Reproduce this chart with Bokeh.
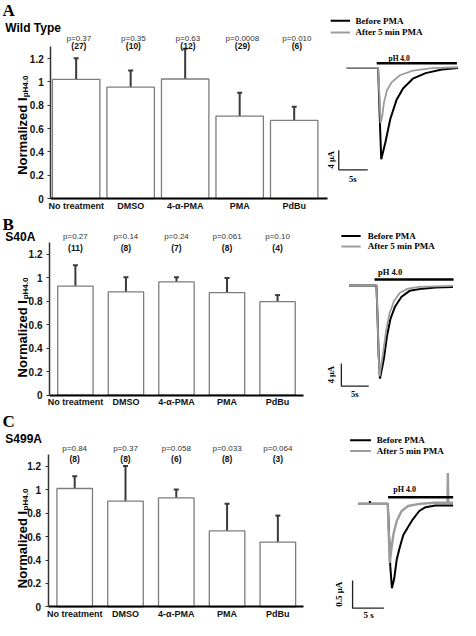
import math
from bokeh.plotting import figure
from bokeh.models import (Range1d, ColumnDataSource, Whisker, TeeHead, FixedTicker, LinearAxis)
from bokeh.layouts import column
from bokeh.core.properties import value
from bokeh.embed import file_html
from bokeh.resources import INLINE

# ---------------- data ----------------
categories = ["No treatment", "DMSO", "4-α-PMA", "PMA", "PdBu"]
y_ticks = [0, 0.2, 0.4, 0.6, 0.8, 1, 1.2]
y_tick_labels = ["0", "0.2", "0.4", "0.6", "0.8", "1", "1.2"]

wt_mean = [1.022, 0.955, 1.025, 0.707, 0.670]
wt_err = [0.181, 0.142, 0.260, 0.201, 0.117]
wt_p = ["p=0.37", "p=0.35", "p=0.63", "p=0.0008", "p=0.010"]
wt_n = ["(27)", "(10)", "(12)", "(29)", "(6)"]

s40_mean = [0.930, 0.880, 0.965, 0.875, 0.797]
s40_err = [0.177, 0.125, 0.041, 0.123, 0.056]
s40_p = ["p=0.27", "p=0.14", "p=0.24", "p=0.061", "p=0.10"]
s40_n = ["(11)", "(8)", "(7)", "(8)", "(4)"]

s499_mean = [1.010, 0.903, 0.930, 0.648, 0.553]
s499_err = [0.105, 0.298, 0.072, 0.232, 0.226]
s499_p = ["p=0.84", "p=0.37", "p=0.058", "p=0.033", "p=0.064"]
s499_n = ["(8)", "(8)", "(6)", "(8)", "(3)"]

legend_labels = ["Before PMA", "After 5 min PMA"]

# current traces (time in s, current in µA)
wt_before_t = [0, 5.4, 5.53, 5.78, 5.95, 6.67, 7.5, 8.6, 9.7, 11.4, 13.6, 16.4, 19.2]
wt_before_i = [0, 0, -4.2, -13.2, -18.7, -15.2, -10.5, -6.5, -4.2, -2.2, -1.06, -0.34, 0]
wt_after_t = [0, 5.4, 5.62, 5.83, 6.12, 6.4, 6.95, 7.78, 9.17, 11.4, 14.7, 19.2]
wt_after_i = [0, 0, -5.2, -11.3, -9.9, -7.2, -4.5, -2.9, -1.5, -0.54, -0.06, 0.14]

s40_before_t = [0, 5.0, 5.18, 5.41, 5.65, 6.36, 6.94, 7.53, 8.41, 9.59, 11.06, 13.43, 15.78, 19.0]
s40_before_i = [0, 0, -4.9, -12.3, -16.4, -12.9, -8.85, -6.0, -3.7, -2.0, -0.96, -0.57, -0.39, -0.27]
s40_after_t = [0, 5.0, 5.18, 5.41, 5.58, 6.24, 6.82, 7.42, 8.23, 9.29, 10.78, 12.83, 15.78, 19.0]
s40_after_i = [0, 0, -4.9, -12.3, -16.0, -11.7, -7.7, -4.85, -2.7, -1.3, -0.57, -0.27, -0.17, -0.1]

s499_before_t = [0, 1.85, 1.9, 1.95, 4.75, 4.95, 5.15, 5.41, 5.77, 6.18, 6.69, 7.22, 7.99, 8.76,
                 9.78, 10.8, 12.37, 15.2]
s499_before_i = [0, 0, 0.05, 0, 0, -0.54, -1.13, -1.53, -1.36, -1.01, -0.78, -0.57, -0.42, -0.28,
                 -0.13, -0.06, -0.03, -0.03]
s499_after_t = [0, 4.75, 5.06, 5.30, 5.67, 6.18, 6.96, 7.99, 9.78, 12.37, 14.3, 14.36, 14.42, 15.2]
s499_after_i = [0, 0, -1.07, -0.84, -0.54, -0.31, -0.13, -0.04, 0, 0.02, 0.02, 0.56, 0.02, 0.02]

wt_ph_window = [5.17, 19.0]
s40_ph_window = [4.65, 19.1]
s499_ph_window = [4.79, 15.2]

wt_scale = (5, 4)        # s, µA
s40_scale = (5, 4)
s499_scale = (5, 0.5)
wt_scale_text = ("5s", "4 μA")
s40_scale_text = ("5s", "4 μA")
s499_scale_text = ("5 s", "0.5 μA")

# ---------------- style ----------------
SANS = "Liberation Sans"
SERIF = "Liberation Serif"
GRAY = "#9c9c9c"
W = 460


def txt(p, x, y, text, font=SANS, size="9px", style="bold", align="left", baseline="middle",
        angle=0.0, color="#111111", **kw):
    p.text(x=[x], y=[y], text=[text], text_font=value(font), text_font_size=size,
           text_font_style=style, text_align=align, text_baseline=baseline, angle=angle,
           text_color=color, **kw)


def panel(cfg):
    p = figure(width=W, height=cfg["h"], x_range=Range1d(*cfg["xr"]), y_range=Range1d(*cfg["yr"]),
               x_axis_location=None, y_axis_location=None,
               min_border_left=0, min_border_right=0, min_border_top=0, min_border_bottom=0,
               output_backend="svg", toolbar_location=None)
    p.extra_x_ranges = {"tx": Range1d(*cfg["txr"])}
    p.extra_y_ranges = {"ty": Range1d(*cfg["tyr"])}
    p.outline_line_color = None
    p.xgrid.grid_line_color = None
    p.ygrid.grid_line_color = None

    idx = list(range(len(categories)))
    means, errs = cfg["mean"], cfg["err"]
    src = ColumnDataSource(dict(x=idx, mean=means, upper=[m + e for m, e in zip(means, errs)],
                                px=[i + cfg["p_dx"] for i in idx], p=cfg["p"], n=cfg["n"]))

    # axes (library axes, pinned at the data origin)
    ya = LinearAxis(fixed_location=cfg["yaxis_x"], bounds=(0, 1.3),
                    ticker=FixedTicker(ticks=y_ticks))
    ya.major_label_overrides = {t: l for t, l in zip(y_ticks, y_tick_labels)}
    ya.axis_line_color = "#333333"
    ya.axis_line_width = 1.5
    ya.major_tick_line_color = "#333333"
    ya.major_tick_line_width = 1.2
    ya.major_tick_out = 3
    ya.major_tick_in = 0
    ya.minor_tick_line_color = None
    ya.major_label_standoff = 4
    ya.major_label_text_font = SANS
    ya.major_label_text_font_style = "bold"
    ya.major_label_text_font_size = "10px"
    ya.major_label_text_color = "#111111"
    p.add_layout(ya, "left")

    xa = LinearAxis(fixed_location=0, bounds=(cfg["yaxis_x"], cfg["xaxis_end"]),
                    ticker=FixedTicker(ticks=idx))
    xa.major_label_overrides = {i: c for i, c in zip(idx, categories)}
    xa.axis_line_color = "black"
    xa.axis_line_width = 2
    xa.major_tick_line_color = None
    xa.minor_tick_line_color = None
    xa.major_tick_out = 0
    xa.major_tick_in = 0
    xa.major_label_standoff = 2
    xa.major_label_text_font = SANS
    xa.major_label_text_font_style = "bold"
    xa.major_label_text_font_size = "9px"
    xa.major_label_text_color = "#111111"
    p.add_layout(xa, "below")

    # bars + error bars
    p.vbar(x="x", top="mean", bottom=0, width=cfg["bar_w"], fill_color="white",
           line_color="#7d7d7d", line_width=1.3, source=src)
    p.add_layout(Whisker(base="x", lower="mean", upper="upper", source=src,
                         line_color="#3a3a3a", line_width=2,
                         upper_head=TeeHead(size=5, line_color="#3a3a3a", line_width=2),
                         lower_head=None))
    p.text(x="px", y=cfg["p_y"], text="p", source=src, text_font=value(SANS),
           text_font_size="8px", text_align="center", text_baseline="middle",
           text_color="#333333")
    p.text(x="px", y=cfg["n_y"], text="n", source=src, text_font=value(SANS),
           text_font_size="8.5px", text_font_style="bold", text_align="center",
           text_baseline="middle", text_color="#111111")

    # panel letter, subtitle, y label
    lx, ly = cfg["letter_pos"]
    txt(p, lx, ly, cfg["letter"], font=SERIF, size="17px", baseline="top", color="black")
    sx, sy = cfg["sub_pos"]
    txt(p, sx, sy, cfg["subtitle"], size="12px", baseline="top", color="black")
    yx, yy = cfg["ylab_pos"]
    txt(p, yx, yy, "Normalized I", size="13px", baseline="alphabetic", angle=math.pi / 2,
        color="black")
    bx, by = cfg["ysub_pos"]
    txt(p, bx, by, "pH4.0", size="8px", baseline="alphabetic", angle=math.pi / 2, color="black")

    # ---- current traces (own time / current scales) ----
    T = dict(x_range_name="tx", y_range_name="ty")
    bt, bi, gt, gi = cfg["trace"]
    p.line(bt, bi, line_color="black", line_width=2, **T)
    p.line(gt, gi, line_color=GRAY, line_width=cfg.get("gray_w", 1.8), **T)

    ph = cfg["ph"]
    p.line(ph, [cfg["ph_y"]] * 2, line_color="black", line_width=2.5, **T)
    txt(p, cfg["ph_text"][0], cfg["ph_text"][1], "pH 4.0", font=SERIF, size=cfg["ph_size"],
        color="black", **T)

    (cx, cy), (st, si) = cfg["corner"], cfg["scale"]
    p.line([cx, cx, cx + st], [cy + si, cy, cy], line_color="#222222", line_width=1.3, **T)
    vx, vy = cfg["vlab"]
    txt(p, vx, vy, cfg["scale_text"][1], font=SERIF, size=cfg["scale_size"], align="center",
        angle=math.pi / 2, color="black", **T)
    hx, hy = cfg["hlab"]
    txt(p, hx, hy, cfg["scale_text"][0], font=SERIF, size=cfg["scale_size"], align="center",
        color="black", **T)

    # legend (lines + texts in the trace coordinates)
    (l0, l1, ltx), (ly0, ly1) = cfg["leg_x"], cfg["leg_y"]
    p.line([l0, l1], [ly0, ly0], line_color="black", line_width=2, **T)
    p.line([l0, l1], [ly1, ly1], line_color=GRAY, line_width=2, **T)
    txt(p, ltx, ly0, legend_labels[0], font=SERIF, size="9px", color="black", **T)
    txt(p, ltx, ly1, legend_labels[1], font=SERIF, size="9px", color="black", **T)
    return p


cfgA = dict(h=214, xr=(-1.388, 7.051), yr=(-0.1365, 1.698), txr=(-59.72, 19.62), tyr=(-30.0, 13.8),
            mean=wt_mean, err=wt_err, p=wt_p, n=wt_n, p_dx=0.05, p_y=1.375, n_y=1.308,
            bar_w=0.87, yaxis_x=-0.466, xaxis_end=4.605,
            letter="A", letter_pos=(-1.353, 1.694), subtitle="Wild Type", sub_pos=(-1.30, 1.526),
            ylab_pos=(-0.986, 0.204), ysub_pos=(-0.933, 0.868),
            trace=(wt_before_t, wt_before_i, wt_after_t, wt_after_i),
            ph=wt_ph_window, ph_y=0.94, ph_text=(7.2, 2.0), ph_size="7.5px",
            corner=(-1.38, -20.86), scale=wt_scale, scale_text=wt_scale_text, scale_size="8.5px",
            vlab=(-2.77, -18.8), hlab=(1.03, -22.8),
            leg_x=(-2.77, 0.57, 1.5), leg_y=(9.66, 7.26))

cfgB = dict(h=197, xr=(-1.482, 7.62), yr=(-0.1388, 1.540), txr=(-63.73, 20.37), tyr=(-22.18, 12.47),
            mean=s40_mean, err=s40_err, p=s40_p, n=s40_n, p_dx=0.0, p_y=1.349, n_y=1.258,
            bar_w=0.70, yaxis_x=-0.512, xaxis_end=4.509,
            letter="B", letter_pos=(-1.444, 1.536), subtitle="S40A", sub_pos=(-1.386, 1.407),
            ylab_pos=(-1.048, 0.152), ysub_pos=(-0.99, 0.817),
            trace=(s40_before_t, s40_before_i, s40_after_t, s40_after_i),
            ph=s40_ph_window, ph_y=1.03, ph_text=(5.3, 2.3), ph_size="8.5px",
            corner=(-1.41, -17.72), scale=s40_scale, scale_text=s40_scale_text, scale_size="8.5px",
            vlab=(-3.36, -15.7), hlab=(1.02, -19.14),
            leg_x=(-1.41, 2.12, 3.41), leg_y=(8.70, 6.86))

cfgC = dict(h=209, xr=(-1.461, 7.596), yr=(-0.1161, 1.667), txr=(-57.19, 16.38), tyr=(-2.116, 1.675),
            mean=s499_mean, err=s499_err, p=s499_p, n=s499_n, p_dx=0.0, p_y=1.352, n_y=1.26,
            bar_w=0.70, yaxis_x=-0.523, xaxis_end=4.50,
            letter="C", letter_pos=(-1.423, 1.663), subtitle="S499A", sub_pos=(-1.366, 1.494),
            ylab_pos=(-1.03, 0.160), ysub_pos=(-0.972, 0.823),
            trace=(s499_before_t, s499_before_i, s499_after_t, s499_after_i),
            ph=s499_ph_window, ph_y=0.118, ph_text=(5.64, 0.252), ph_size="8px",
            corner=(-0.88, -1.892), scale=s499_scale, scale_text=s499_scale_text, scale_size="9px",
            vlab=(-3.09, -1.64), hlab=(1.70, -2.02),
            leg_x=(-1.28, 2.06, 2.98), leg_y=(1.152, 0.958), gray_w=2.4)

layout = column(panel(cfgA), panel(cfgB), panel(cfgC))

with open("out.html", "w") as f:
    f.write(file_html(layout, INLINE))
